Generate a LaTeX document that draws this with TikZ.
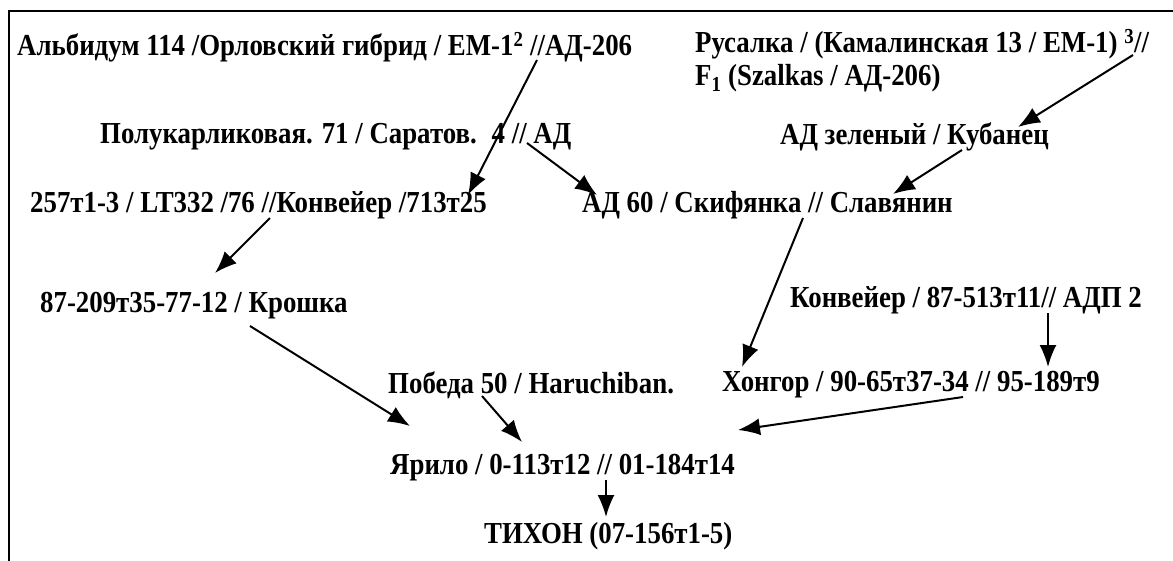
\documentclass[tikz,border=0pt]{standalone}
\usepackage{fontspec}
\setmainfont{Liberation Serif}[FakeStretch=0.88]
\usetikzlibrary{arrows.meta}
\begin{document}
\begin{tikzpicture}[x=1pt,y=-1pt,
  lbl/.style={anchor=west,inner sep=0pt,font=\fontsize{30.5}{33}\selectfont\bfseries},
  arr/.style={line width=2pt,-{Latex[length=22pt,width=17pt]}}]
\useasboundingbox (0,0) rectangle (1173,560);
\clip (0,0) rectangle (1173,560);
\draw[line width=2.5pt] (9,11) rectangle (1200,600);
\node[lbl] (A) at (17,47) {Альбидум 114 /Орловский гибрид / ЕМ-1\textsuperscript{2} //АД-206};
\node[lbl,align=left] (B) at (695,61) {Русалка / (Камалинская 13 / ЕМ-1) \textsuperscript{3}//\\F\textsubscript{1} (Szalkas / АД-206)};
\node[lbl] (C) at (100,137) {Полукарликовая. 71 / Саратов.\hspace{6pt} 4 // АД};
\node[lbl] (D) at (780,137) {АД зеленый / Кубанец};
\node[lbl] (E) at (30,205) {257т1-3 / LT332 /76 //Конвейер /713т25};
\node[lbl] (F) at (582,205) {АД 60 / Скифянка // Славянин};
\node[lbl] (G) at (40,306) {87-209т35-77-12 / Крошка};
\node[lbl] (H) at (790,300) {Конвейер / 87-513т11// АДП 2};
\node[lbl] (I) at (388,385) {Победа 50 / Haruchiban.};
\node[lbl] (J) at (722,385) {Хонгор / 90-65т37-34 // 95-189т9};
\node[lbl] (K) at (390,468) {Ярило / 0-113т12 // 01-184т14};
\node[lbl] (L) at (484,536) {ТИХОН (07-156т1-5)};
\draw[arr] ([shift={(520,13)}]A.west) -- ([shift={(438,-10)}]E.west);
\draw[arr] ([shift={(427,6)}]C.west) -- ([shift={(15,-10)}]F.west);
\draw[arr] ([shift={(438,-6)}]B.west) -- ([shift={(238,-10)}]D.west);
\draw[arr] ([shift={(182,13)}]D.west) -- ([shift={(311,-11)}]F.west);
\draw[arr] ([shift={(240,13)}]E.west) -- ([shift={(175,-33)}]G.west);
\draw[arr] ([shift={(221,13)}]F.west) -- ([shift={(20,-18)}]J.west);
\draw[arr] ([shift={(258,13)}]H.west) -- ([shift={(326,-18)}]J.west);
\draw[arr] ([shift={(210,20)}]G.west) -- ([shift={(20,-42)}]K.west);
\draw[arr] ([shift={(94,11)}]I.west) -- ([shift={(132,-26)}]K.west);
\draw[arr] ([shift={(241,12)}]J.west) -- ([shift={(348,-38)}]K.west);
\draw[arr] ([shift={(216,12)}]K.west) -- ([shift={(122,-19)}]L.west);
\end{tikzpicture}
\end{document}
